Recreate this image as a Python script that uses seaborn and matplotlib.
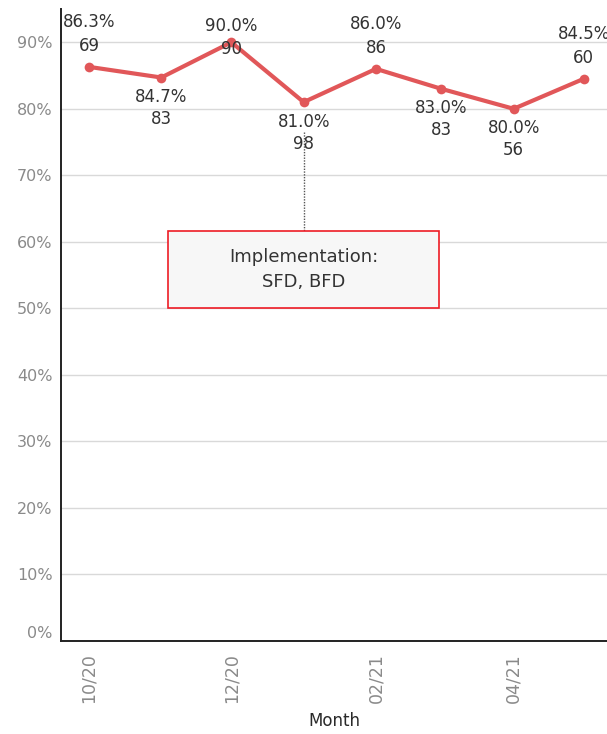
import matplotlib
matplotlib.use("Agg")
import matplotlib.pyplot as plt
import matplotlib.dates as mdates
from matplotlib.patches import Rectangle
import seaborn as sns
import pandas as pd

# Monthly rate and case counts
months = ["2020-10", "2020-11", "2020-12", "2021-01", "2021-02", "2021-03", "2021-04", "2021-05"]
rates = [86.3, 84.7, 90.0, 81.0, 86.0, 83.0, 80.0, 84.5]
counts = [69, 83, 90, 98, 86, 83, 56, 60]
y_ticks = [0, 10, 20, 30, 40, 50, 60, 70, 80, 90]

# Label placement per point: above, below, or split around the marker
label_side = ["above", "below", "split", "below", "above", "below", "below", "above"]

df = pd.DataFrame({"Month": pd.to_datetime(months), "Rate": rates, "Count": counts})

sns.set_style("white")
plt.rcParams["font.family"] = ["DejaVu Sans"]

fig = plt.figure(figsize=(6.07, 7.34), dpi=100)
ax = fig.add_axes([61 / 607, 1 - 641 / 734, 1 - 61 / 607, (641 - 9) / 734])

red = "#e15759"
sns.lineplot(data=df, x="Month", y="Rate", ax=ax, color=red, linewidth=3.0,
             marker="o", markersize=7, markeredgewidth=0, zorder=3)

# grid
for v in y_ticks:
    ax.axhline(v, color="#d9d9d9", linewidth=1, zorder=0)

ax.set_ylim(0, 95)
ax.set_xlim(pd.Timestamp("2020-09-19"), pd.Timestamp("2021-05-11"))
ax.set_yticks(y_ticks)
ax.set_yticklabels([f"{v}%" for v in y_ticks])
ax.tick_params(axis="y", length=0, labelsize=11.5, labelcolor="#8a8a8a", pad=6)
lbl0 = ax.get_yticklabels()[0]
lbl0.set_verticalalignment("bottom")

ax.xaxis.set_major_locator(mdates.MonthLocator(bymonth=[10, 12, 2, 4]))
ax.xaxis.set_minor_locator(mdates.MonthLocator(bymonth=[11, 1, 3, 5]))
ax.xaxis.set_major_formatter(mdates.DateFormatter("%m/%y"))
ax.tick_params(axis="x", which="major", length=6, width=1.2, color="#333333",
               labelsize=12.5, labelcolor="#8a8a8a", labelrotation=90, pad=3)
ax.tick_params(axis="x", which="minor", length=2, width=1.2, color="#333333")

for s in ["top", "right"]:
    ax.spines[s].set_visible(False)
for s in ["left", "bottom"]:
    ax.spines[s].set_color("#222222")
    ax.spines[s].set_linewidth(1.4)

ax.set_ylabel("")
ax.set_xlabel("Month", fontsize=12, color="#2a2a2a", labelpad=6)

# value labels
offsets = {"above": (32, 15), "below": (-14, -30), "split": (12, -5)}
for d, r, c, side in zip(df["Month"], rates, counts, label_side):
    o1, o2 = offsets[side]
    ax.annotate(f"{r:.1f}%", (d, r), xytext=(0, o1), textcoords="offset points",
                ha="center", va="center", fontsize=12, color="#333333", zorder=5)
    ax.annotate(f"{c}", (d, r), xytext=(0, o2), textcoords="offset points",
                ha="center", va="center", fontsize=12, color="#333333", zorder=5)

# implementation callout
ev = pd.Timestamp("2021-01-01")
ax.plot([ev, ev], [76.5, 61.6], linestyle=(0, (1, 1)), color="#555555", linewidth=1, zorder=2)
x0 = mdates.date2num(pd.Timestamp("2020-11-04"))
x1 = mdates.date2num(pd.Timestamp("2021-02-28"))
ax.add_patch(Rectangle((x0, 50.1), x1 - x0, 11.5, facecolor="#f7f7f7",
                       edgecolor="#ee1c25", linewidth=1.2, zorder=4))
ax.text(mdates.date2num(ev), 55.85, "Implementation:\nSFD, BFD", ha="center", va="center",
        fontsize=13, color="#333333", linespacing=1.55, zorder=5)

fig.savefig("out.png", dpi=100)
